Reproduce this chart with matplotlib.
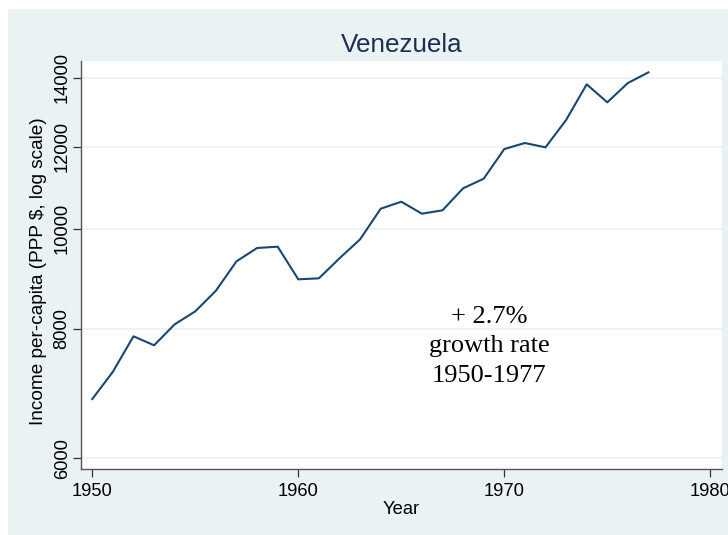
import matplotlib
matplotlib.use("Agg")
import matplotlib.pyplot as plt
from matplotlib.patches import Rectangle
from matplotlib.ticker import FixedLocator, FixedFormatter, NullLocator

years = list(range(1950, 1978))
income = [6845, 7274, 7871, 7715, 8084, 8321, 8712, 9302, 9582, 9610,
          8936, 8956, 9364, 9769, 10458, 10622, 10343, 10421, 10944, 11181,
          11945, 12106, 11990, 12742, 13797, 13254, 13837, 14170]
y_ticks = [6000, 8000, 10000, 12000, 14000]
y_tick_labels = ["6000", "8000", "10000", "12000", "14000"]
x_ticks = [1950, 1960, 1970, 1980]
x_tick_labels = ["1950", "1960", "1970", "1980"]
title = "Venezuela"
x_label = "Year"
y_label = "Income per-capita (PPP $, log scale)"
note = "+ 2.7%\ngrowth rate\n1950-1977"

W, H = 728, 535
fig = plt.figure(figsize=(W / 100, H / 100), dpi=100, facecolor="white")
bg = "#EAF2F3"
fig.patches.append(Rectangle((8 / W, 0), 1 - 8 / W, (H - 9) / H,
                             transform=fig.transFigure, facecolor=bg,
                             edgecolor="none", zorder=-10))

left, right = 80.7 / W, 722.3 / W
bottom, top = (H - 469.3) / H, (H - 60.7) / H
ax = fig.add_axes([left, bottom, right - left, top - bottom])
ax.set_facecolor("white")

sans = "Liberation Sans"
serif = "Liberation Serif"

ax.plot(years, income, color="#1a476f", lw=1.5, zorder=3)
ax.set_yscale("log")
ax.set_ylim(5853, 14542)
ax.set_xlim(1949.437, 1980.583)

ax.yaxis.set_major_locator(FixedLocator(y_ticks))
ax.yaxis.set_major_formatter(FixedFormatter(y_tick_labels))
ax.yaxis.set_minor_locator(NullLocator())
ax.xaxis.set_major_locator(FixedLocator(x_ticks))
ax.xaxis.set_major_formatter(FixedFormatter(x_tick_labels))

ax.grid(axis="y", color=bg, lw=1.3, zorder=1)
ax.grid(axis="x", visible=False)

for s in ["top", "right"]:
    ax.spines[s].set_visible(False)
for s in ["left", "bottom"]:
    ax.spines[s].set_color("#555555")
    ax.spines[s].set_linewidth(1.0)

ax.tick_params(axis="both", which="major", length=5.8, width=0.9,
               color="#333333", labelcolor="black", labelsize=13.2)
ax.tick_params(axis="x", pad=3.8)
ax.tick_params(axis="y", pad=7.5)
for lab in ax.get_yticklabels():
    lab.set_rotation(90)
    lab.set_va("center")
    lab.set_ha("center")
    lab.set_family(sans)
for lab in ax.get_xticklabels():
    lab.set_family(sans)

ax.set_title(title, fontsize=18.7, color="#1c2e52", family=sans, pad=6)
ax.set_xlabel(x_label, fontsize=13.2, family=sans, color="black")
ax.set_ylabel(y_label, fontsize=13.7, family=sans, color="black")
ax.xaxis.set_label_coords(0.5, -0.078)
ax.yaxis.set_label_coords(-0.0655, 0.485)
ax.yaxis.label.set_va("center")

ax.text(1969.28, 7700, note, family=serif, fontsize=19, ha="center",
        va="center", multialignment="center", color="black", linespacing=1.45,
        zorder=4)

fig.savefig("out.png", dpi=100, facecolor=fig.get_facecolor())
